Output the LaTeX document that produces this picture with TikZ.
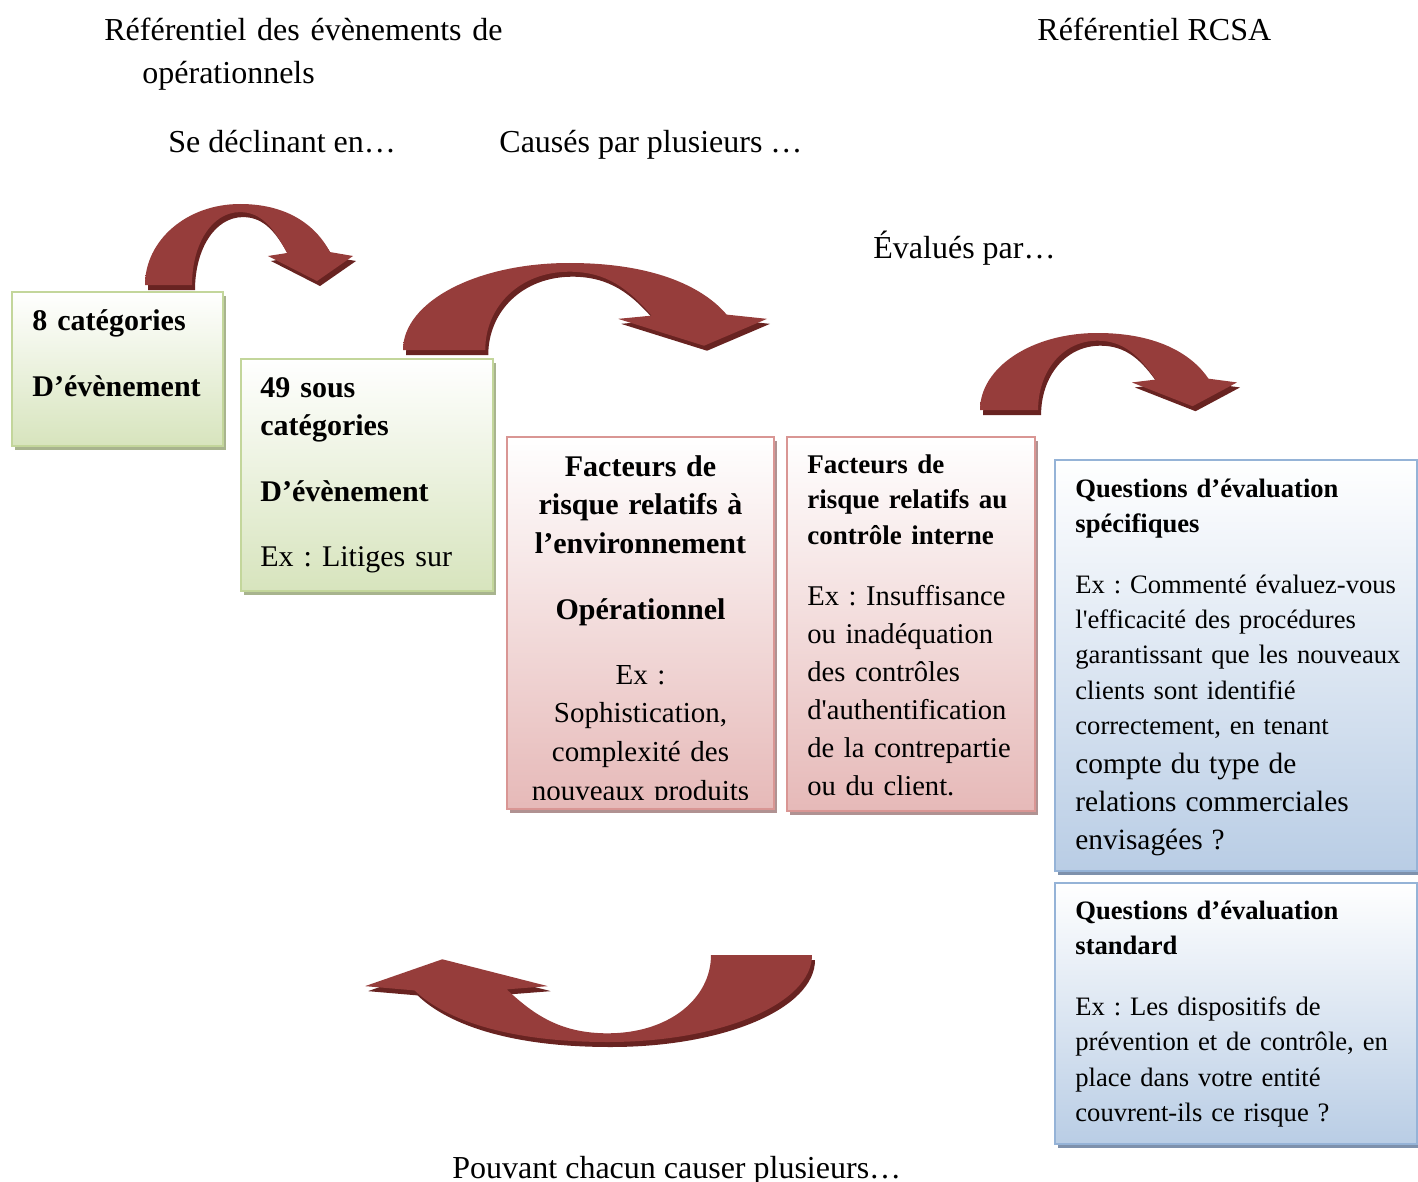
\documentclass[tikz,border=0pt]{standalone}
\usepackage{fontspec}
\setmainfont{Liberation Serif}
\usetikzlibrary{shadows}

\definecolor{greenline}{RGB}{195,214,155}
\definecolor{greenfill}{RGB}{215,228,189}
\definecolor{greenshade}{RGB}{168,180,142}
\definecolor{pinkline}{RGB}{217,150,148}
\definecolor{pinkfill}{RGB}{230,185,184}
\definecolor{pinkshade}{RGB}{176,146,146}
\definecolor{blueline}{RGB}{149,179,215}
\definecolor{bluefill}{RGB}{185,205,229}
\definecolor{blueshade}{RGB}{126,145,172}
\definecolor{arrowred}{RGB}{150,61,59}
\definecolor{arrowlight}{RGB}{184,74,71}
\definecolor{arrowdark}{RGB}{104,35,33}

% curved arrow in a unit box
\newcommand\bentpath{(0,1) .. controls (0,0.45) and (0.2,0) .. (0.457,0)
  .. controls (0.7,0) and (0.83,0.3) .. (0.889,0.593)
  -- (1,0.642) -- (0.827,0.951) -- (0.591,0.642) -- (0.683,0.605)
  .. controls (0.62,0.3) and (0.56,0.1) .. (0.457,0.1)
  .. controls (0.32,0.1) and (0.226,0.5) .. (0.226,1) -- cycle}
\newcommand\bentarrow[1]{%
  \begin{scope}[shift={(3,5)}]\begin{scope}[#1]
    \fill[arrowdark] \bentpath;
  \end{scope}\end{scope}
  \begin{scope}[#1]
    \shade[left color=arrowred, middle color=arrowlight, right color=arrowred] \bentpath;
  \end{scope}}

\newcommand\headfont{\fontsize{16}{21.5}\selectfont}

\begin{document}
\frenchspacing\hyphenpenalty=10000
\begin{tikzpicture}[x=0.5pt, y=-0.5pt,
    box/.style={rectangle, line width=1pt, inner sep=0pt, anchor=north west},
    greenbox/.style={box, draw=greenline, top color=white, bottom color=greenfill,
      drop shadow={shadow xshift=1.5pt, shadow yshift=-2pt, fill=greenshade, opacity=1}},
    pinkbox/.style={box, draw=pinkline, top color=white, bottom color=pinkfill,
      drop shadow={shadow xshift=1.5pt, shadow yshift=-2pt, fill=pinkshade, opacity=1}},
    bluebox/.style={box, draw=blueline, top color=white, bottom color=bluefill,
      drop shadow={shadow xshift=1.5pt, shadow yshift=-2pt, fill=blueshade, opacity=1}},
    boxtext/.style={inner sep=0pt, align=left, text width=#1, anchor=base west},
    heading/.style={inner sep=0pt, anchor=base west, font=\headfont}]
  \useasboundingbox (0,0) rectangle (1418,1182);

  % titles
  \node[heading, align=left, text width=210pt] (refevt) at (104,41)
    {Référentiel des évènements de\\\hspace*{19pt}opérationnels};
  \node[heading] (refrcsa) at (1037,41) {Référentiel RCSA};
  \node[heading] (decl) at (168,153) {Se déclinant en…};
  \node[heading] (cause) at (499,153) {Causés par plusieurs …};
  \node[heading] (eval) at (873,258) {Évalués par…};
  \node[heading] (pouv) at (452,1178) {Pouvant chacun causer plusieurs…};

  % arrows
  \bentarrow{shift={(145,204)}, xscale=208, yscale=81}
  \bentarrow{shift={(403,263)}, xscale=364, yscale=87}
  \bentarrow{shift={(980,333)}, xscale=257, yscale=77}
  \bentarrow{shift={(812,1042)}, xscale=-447, yscale=-87}

  % boxes
  \node[greenbox, minimum width=105.5pt, minimum height=77pt] (cat8) at (11,291) {};
  \node[greenbox, minimum width=126pt, minimum height=116pt] (cat49) at (240,358) {};
  \node[pinkbox, minimum width=133.5pt, minimum height=186pt] (envir) at (506,436) {};
  \node[pinkbox, minimum width=124pt, minimum height=187pt] (ctrl) at (786,436) {};
  \node[bluebox, minimum width=181pt, minimum height=205.5pt] (qspec) at (1054,459) {};
  \node[bluebox, minimum width=181pt, minimum height=130.5pt] (qstd) at (1054,882) {};

  \node[boxtext=100pt, font=\fontsize{15}{19}\selectfont\bfseries] (cat8txt)
    at ([shift={(21,39)}]cat8.north west)
    {8 catégories\\[14pt]D’évènement};
  \node[boxtext=118pt, font=\fontsize{15}{19}\selectfont] (cat49txt)
    at ([shift={(20,39)}]cat49.north west)
    {{\bfseries 49 sous\\catégories\\[14pt]D’évènement}\\[13.5pt]Ex : Litiges sur};
  \begin{scope}
    \clip (envir.north west) rectangle ([yshift=5.5pt]envir.south east);
    \node[boxtext=130pt, align=center, anchor=base, font=\fontsize{14.5}{19.3}\selectfont] (envirtxt)
      at ([shift={(0,40)}]envir.north)
      {{\fontsize{15}{19.3}\selectfont\bfseries Facteurs de\\risque relatifs à\\l’environnement\\[13.7pt]
       Opérationnel}\\[13.2pt]
       Ex :\\Sophistication,\\complexité des\\nouveaux produits};
  \end{scope}
  \node[boxtext=118pt, font=\fontsize{14.3}{17.75}\selectfont] (ctrltxt)
    at ([shift={(21,37)}]ctrl.north west)
    {{\fontsize{13.5}{17.75}\selectfont\bfseries Facteurs de\\risque relatifs au\\contrôle interne}\\[12.75pt]
     Ex : Insuffisance\\[1.25pt]ou inadéquation\\[1.25pt]des contrôles\\[1.25pt]d\textquotesingle authentification\\[1.25pt]de la contrepartie\\[1.25pt]ou du client.};
  \node[boxtext=172pt, font=\fontsize{13.3}{17.6}\selectfont] (qspectxt)
    at ([shift={(21,38)}]qspec.north west)
    {{\bfseries Questions d’évaluation\\spécifiques}\\[13pt]
     Ex : Commenté évaluez-vous\\l\textquotesingle efficacité des procédures\\garantissant que les nouveaux\\clients sont identifié\\correctement, en tenant\\[2pt]
     \fontsize{14.7}{17.6}\selectfont compte du type de\\[1.4pt]relations commerciales\\[1.4pt]envisagées ?};
  \node[boxtext=172pt, font=\fontsize{13.3}{17.7}\selectfont] (qstdtxt)
    at ([shift={(21,37)}]qstd.north west)
    {{\bfseries Questions d’évaluation\\standard}\\[12.8pt]
     Ex : Les dispositifs de\\prévention et de contrôle, en\\place dans votre entité\\couvrent-ils ce risque ?};
\end{tikzpicture}
\end{document}
